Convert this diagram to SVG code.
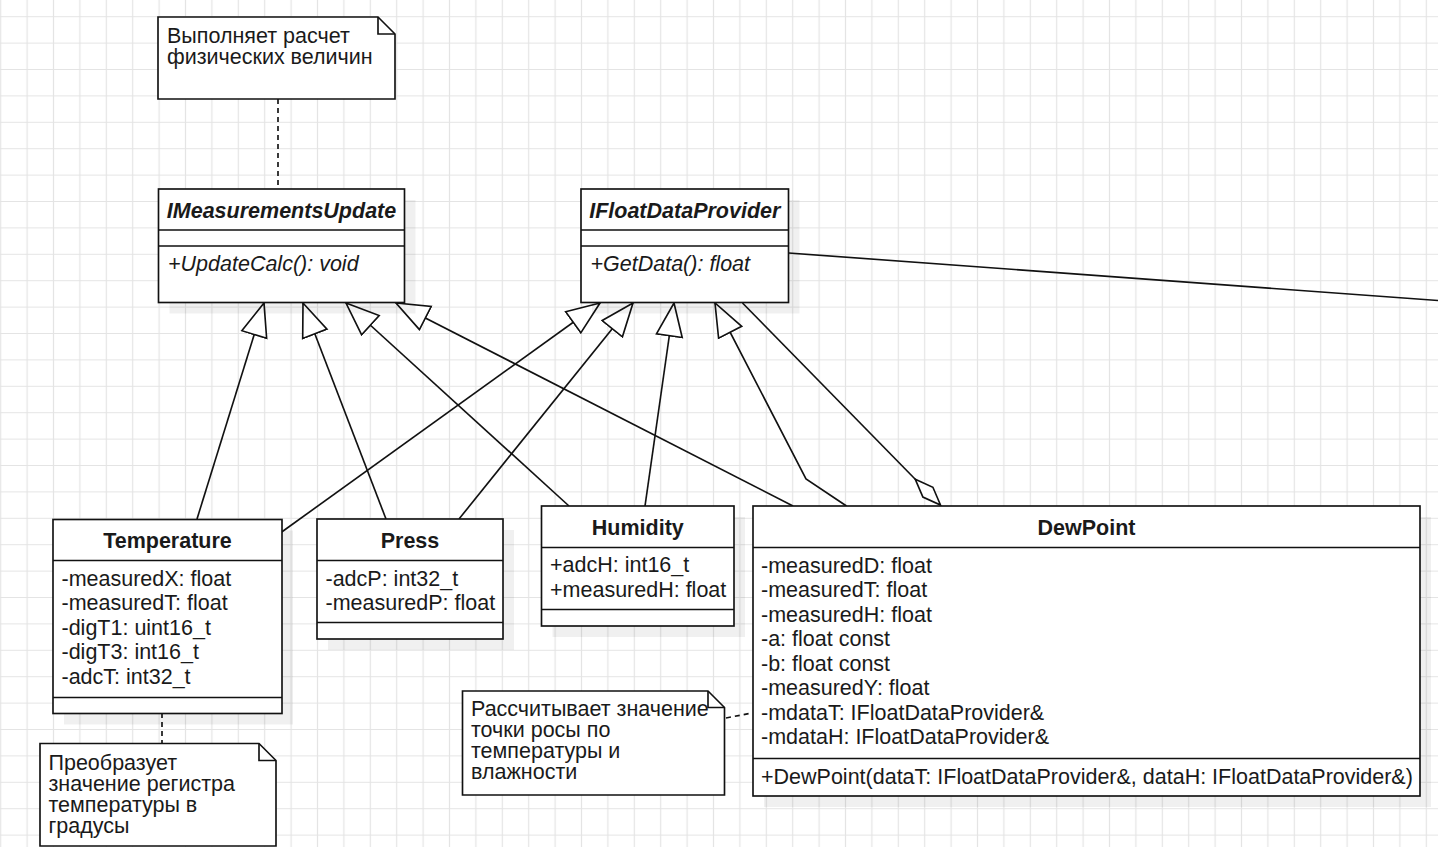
<svg xmlns="http://www.w3.org/2000/svg" width="1438" height="847" viewBox="0 0 1438 847">
  <style>
    .box { fill: #fff; stroke: #111; stroke-width: 1.65; }
    .sep { fill: none; stroke: #111; stroke-width: 1.65; }
    .sh { fill: #000; opacity: 0.06; }
    .t { font-family: "Liberation Sans", Arial, sans-serif; font-size: 21.5px; fill: #1a1a1a; }
    .b { font-weight: bold; }
    .i { font-style: italic; }
    .c { text-anchor: middle; }
    .edge { fill: none; stroke: #111; stroke-width: 1.65; }
    .dash { stroke-dasharray: 5 4; }
  </style>
  <defs>
    <pattern id="grid" width="26.4" height="26.4" patternUnits="userSpaceOnUse" x="-12.5" y="3.5">
      <path d="M13.2,0 V26.4 M0,13.2 H26.4" stroke="#e4e4e4" stroke-width="1.2" fill="none"/>
    </pattern>
    <!-- hollow triangle for generalization -->
    <marker id="gen" markerUnits="userSpaceOnUse" viewBox="-1 -1 36 30" markerWidth="36" markerHeight="30" refX="33" refY="14" orient="auto">
      <path d="M0,1 L33,14 L0,27 Z" fill="#fff" stroke="#111" stroke-width="1.65" stroke-linejoin="miter"/>
    </marker>
    <!-- hollow diamond for aggregation -->
    <marker id="agg" markerUnits="userSpaceOnUse" viewBox="-1 -1 39 17" markerWidth="39" markerHeight="17" refX="36" refY="7" orient="auto">
      <path d="M0,7 L18,0 L36,7 L18,14 Z" fill="#fff" stroke="#111" stroke-width="1.65"/>
    </marker>
  </defs>

  <rect width="1438" height="847" fill="#fff"/>
  <rect width="1438" height="847" fill="url(#grid)"/>

  <!-- connectors -->
  <g id="connectors">
    <!-- note links -->
    <path class="edge dash" d="M278,99 V189"/>
    <path class="edge dash" d="M162,713 V743"/>
    <path class="edge dash" d="M726,718 L752,713"/>
    <!-- realizations of IMeasurementsUpdate -->
    <path class="edge" d="M197,519 L264,303" marker-end="url(#gen)"/>
    <path class="edge" d="M386,519 L303,303" marker-end="url(#gen)"/>
    <path class="edge" d="M569,506 L346,303" marker-end="url(#gen)"/>
    <path class="edge" d="M793,506 L396,303" marker-end="url(#gen)"/>
    <!-- realizations of IFloatDataProvider -->
    <path class="edge" d="M281.7,532 L600,303" marker-end="url(#gen)"/>
    <path class="edge" d="M459,519 L633,303" marker-end="url(#gen)"/>
    <path class="edge" d="M645,506 L674,303" marker-end="url(#gen)"/>
    <path class="edge" d="M846.5,506 L806,479 L715,303" marker-end="url(#gen)"/>
    <!-- DewPoint aggregates IFloatDataProvider -->
    <path class="edge" d="M742.5,303 L940.5,505" marker-end="url(#agg)"/>
    <!-- outgoing link to the right -->
    <path class="edge" d="M788.7,253 L1438,300.5"/>
  </g>

  <!-- note: physical values -->
  <g id="note-measurements">
    <path class="box" d="M158,17 H378 L395,34 V99 H158 Z"/>
    <path class="sep" d="M378,17 V34 H395"/>
    <text class="t" x="167" y="42.5">Выполняет расчет</text>
    <text class="t" x="167" y="63.5">физических величин</text>
  </g>

  <g id="IMeasurementsUpdate">
    <rect class="sh" x="169.5" y="200" width="246" height="113.5"/>
    <rect class="box" x="158.5" y="189" width="246" height="113.5"/>
    <path class="sep" d="M158.5,230 H404.5 M158.5,246 H404.5"/>
    <text class="t b i c" x="281.5" y="217.5">IMeasurementsUpdate</text>
    <text class="t i" x="168" y="271">+UpdateCalc(): void</text>
  </g>

  <g id="IFloatDataProvider">
    <rect class="sh" x="592" y="200" width="207.5" height="113.5"/>
    <rect class="box" x="581" y="189" width="207.5" height="113.5"/>
    <path class="sep" d="M581,230 H788.5 M581,246 H788.5"/>
    <text class="t b i c" x="684.8" y="217.5">IFloatDataProvider</text>
    <text class="t i" x="590.5" y="271">+GetData(): float</text>
  </g>

  <g id="Temperature">
    <rect class="sh" x="64" y="530.5" width="229" height="194"/>
    <rect class="box" x="53" y="519.5" width="229" height="194"/>
    <path class="sep" d="M53,560.5 H282 M53,697.5 H282"/>
    <text class="t b c" x="167.5" y="547.5">Temperature</text>
    <text class="t" x="61.5" y="585.5">-measuredX: float</text>
    <text class="t" x="61.5" y="610">-measuredT: float</text>
    <text class="t" x="61.5" y="634.5">-digT1: uint16_t</text>
    <text class="t" x="61.5" y="659">-digT3: int16_t</text>
    <text class="t" x="61.5" y="683.5">-adcT: int32_t</text>
  </g>

  <g id="Press">
    <rect class="sh" x="328" y="530" width="186" height="120"/>
    <rect class="box" x="317" y="519" width="186" height="120"/>
    <path class="sep" d="M317,560.5 H503 M317,622.5 H503"/>
    <text class="t b c" x="410" y="547.5">Press</text>
    <text class="t" x="325.5" y="585.5">-adcP: int32_t</text>
    <text class="t" x="325.5" y="610">-measuredP: float</text>
  </g>

  <g id="Humidity">
    <rect class="sh" x="552.5" y="517" width="192.5" height="120"/>
    <rect class="box" x="541.5" y="506" width="192.5" height="120"/>
    <path class="sep" d="M541.5,547.5 H734 M541.5,609.5 H734"/>
    <text class="t b c" x="637.8" y="534.5">Humidity</text>
    <text class="t" x="550" y="572">+adcH: int16_t</text>
    <text class="t" x="550" y="596.5">+measuredH: float</text>
  </g>

  <g id="DewPoint">
    <rect class="sh" x="764" y="517" width="667" height="290"/>
    <rect class="box" x="753" y="506" width="667" height="290"/>
    <path class="sep" d="M753,547.5 H1420 M753,758.5 H1420"/>
    <text class="t b c" x="1086.5" y="534.5">DewPoint</text>
    <text class="t" x="761" y="572.5">-measuredD: float</text>
    <text class="t" x="761" y="597">-measuredT: float</text>
    <text class="t" x="761" y="621.5">-measuredH: float</text>
    <text class="t" x="761" y="646">-a: float const</text>
    <text class="t" x="761" y="670.5">-b: float const</text>
    <text class="t" x="761" y="695">-measuredY: float</text>
    <text class="t" x="761" y="719.5">-mdataT: IFloatDataProvider&amp;</text>
    <text class="t" x="761" y="744">-mdataH: IFloatDataProvider&amp;</text>
    <text class="t" x="761" y="784">+DewPoint(dataT: IFloatDataProvider&amp;, dataH: IFloatDataProvider&amp;)</text>
  </g>

  <!-- note: register conversion -->
  <g id="note-temperature">
    <path class="box" d="M40,743.5 H259 L276,760.5 V846 H40 Z"/>
    <path class="sep" d="M259,743.5 V760.5 H276"/>
    <text class="t" x="48.5" y="769.5">Преобразует</text>
    <text class="t" x="48.5" y="790.5">значение регистра</text>
    <text class="t" x="48.5" y="811.5">температуры в</text>
    <text class="t" x="48.5" y="832.5">градусы</text>
  </g>

  <!-- note: dew point calculation -->
  <g id="note-dewpoint">
    <path class="box" d="M462.5,691 H708 L724.5,707.5 V795 H462.5 Z"/>
    <path class="sep" d="M708,691 V707.5 H724.5"/>
    <text class="t" x="471" y="716">Рассчитывает значение</text>
    <text class="t" x="471" y="737">точки росы по</text>
    <text class="t" x="471" y="758">температуры и</text>
    <text class="t" x="471" y="779">влажности</text>
  </g>
</svg>
